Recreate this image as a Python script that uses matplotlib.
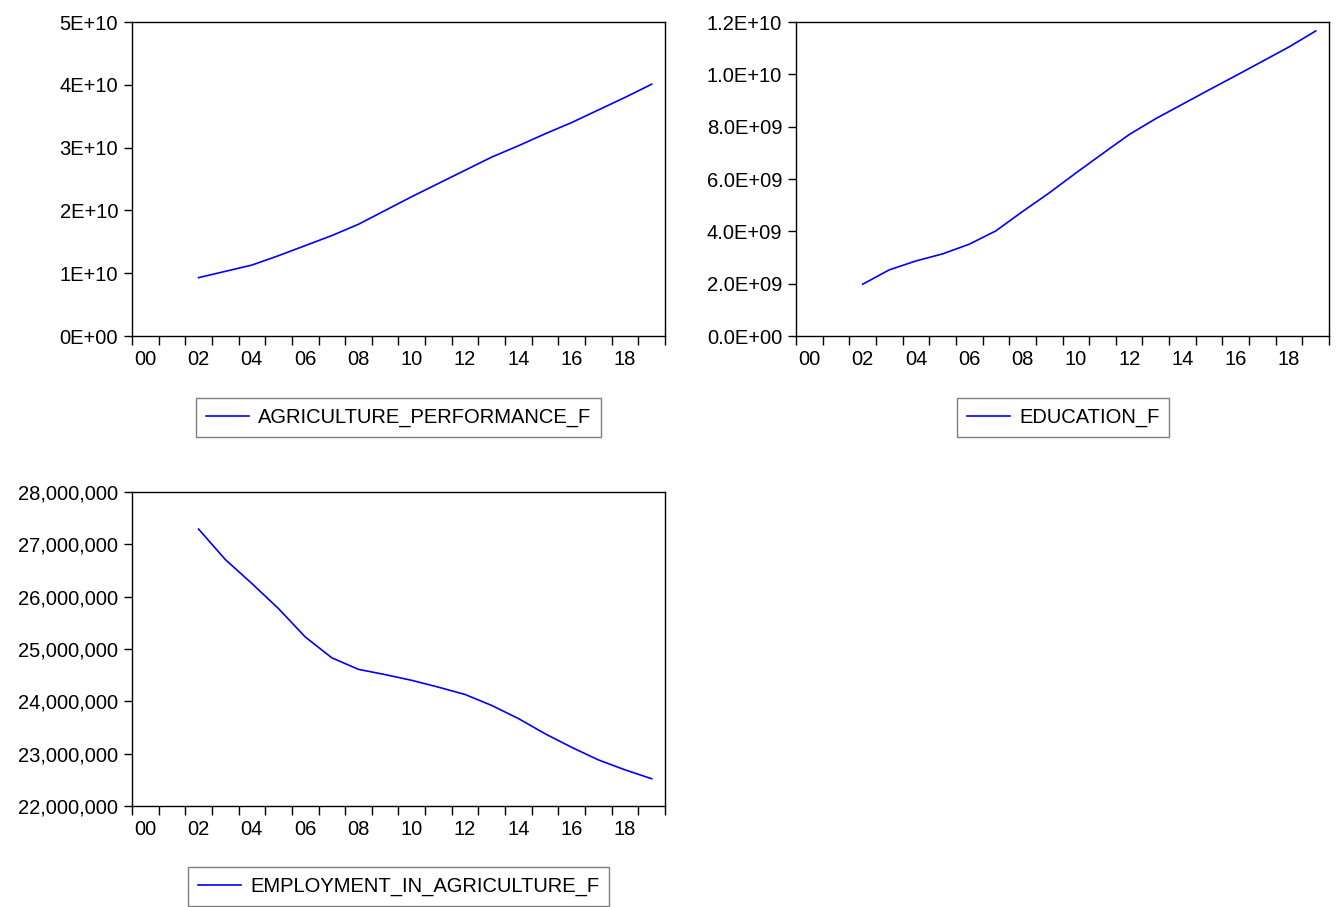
import numpy as np
import matplotlib
matplotlib.use("Agg")
import matplotlib.pyplot as plt
from matplotlib.ticker import FuncFormatter, MultipleLocator

plt.rcParams['font.family'] = ['Liberation Sans', 'DejaVu Sans']

# annual observations, plotted at mid-year like EViews does
years = np.arange(2002, 2020)

agriculture_performance = np.array([
    0.93, 1.03, 1.13, 1.28, 1.44, 1.60, 1.78, 2.00, 2.22,
    2.43, 2.64, 2.85, 3.03, 3.22, 3.40, 3.60, 3.80, 4.01]) * 1e10

education = np.array([
    1.98, 2.53, 2.87, 3.14, 3.51, 4.02, 4.76, 5.47, 6.23,
    6.97, 7.70, 8.31, 8.86, 9.41, 9.95, 10.50, 11.05, 11.66]) * 1e9

employment = np.array([
    27.29, 26.71, 26.25, 25.77, 25.23, 24.83, 24.61, 24.51, 24.40,
    24.27, 24.13, 23.92, 23.67, 23.38, 23.12, 22.88, 22.69, 22.52]) * 1e6

year_labels = ['00', '02', '04', '06', '08', '10', '12', '14', '16', '18']

FS = 14.5


def style_axis(ax, ymin, ymax, ystep, fmt):
    ax.set_xlim(2000, 2020)
    ax.set_ylim(ymin, ymax)
    # year boundaries get the tick marks, labels sit in the middle of the year
    ax.set_xticks(np.arange(2000, 2021))
    ax.set_xticklabels([])
    ax.set_xticks(np.arange(2000, 2020, 2) + 0.5, minor=True)
    ax.set_xticklabels(year_labels, minor=True, fontsize=FS)
    ax.tick_params(axis='x', which='major', direction='out', length=6.5, width=1.0)
    ax.tick_params(axis='x', which='minor', length=0, pad=10)
    ax.yaxis.set_major_locator(MultipleLocator(ystep))
    ax.yaxis.set_major_formatter(FuncFormatter(fmt))
    ax.tick_params(axis='y', direction='out', length=6, width=1.0, pad=4, labelsize=FS)
    for s in ax.spines.values():
        s.set_linewidth(1.0)
        s.set_color('black')


def add_legend(fig, ax, label, xc, ytop):
    leg = fig.legend(ax.get_lines(), [label], loc='upper center',
                     bbox_to_anchor=(xc, ytop), bbox_transform=fig.transFigure,
                     fontsize=FS, fancybox=False, framealpha=1,
                     edgecolor='#7f7f7f', handlelength=2.15, handletextpad=0.45,
                     borderpad=0.5, borderaxespad=0)
    leg.get_frame().set_linewidth(1.0)


fig = plt.figure(figsize=(13.41, 9.07), dpi=100)

ax1 = fig.add_axes([0.0984, 0.6295, 0.3975, 0.3462])
ax2 = fig.add_axes([0.5936, 0.6295, 0.3975, 0.3462])
ax3 = fig.add_axes([0.0984, 0.1114, 0.3975, 0.3462])

x = years + 0.5

ax1.plot(x, agriculture_performance, color='#0000ff', lw=1.2)
style_axis(ax1, 0, 5e10, 1e10, lambda v, p: format(v, '.0E'))

ax2.plot(x, education, color='#0000ff', lw=1.2)
style_axis(ax2, 0, 1.2e10, 2e9, lambda v, p: format(v, '.1E'))

ax3.plot(x, employment, color='#0000ff', lw=1.2)
style_axis(ax3, 22e6, 28e6, 1e6, lambda v, p: format(v, ',.0f'))

add_legend(fig, ax1, 'AGRICULTURE_PERFORMANCE_F', 0.2972, 1 - 398 / 907)
add_legend(fig, ax2, 'EDUCATION_F', 0.7927, 1 - 398 / 907)
add_legend(fig, ax3, 'EMPLOYMENT_IN_AGRICULTURE_F', 0.2972, 1 - 867 / 907)

fig.savefig('out.png', dpi=100)
plt.close(fig)
